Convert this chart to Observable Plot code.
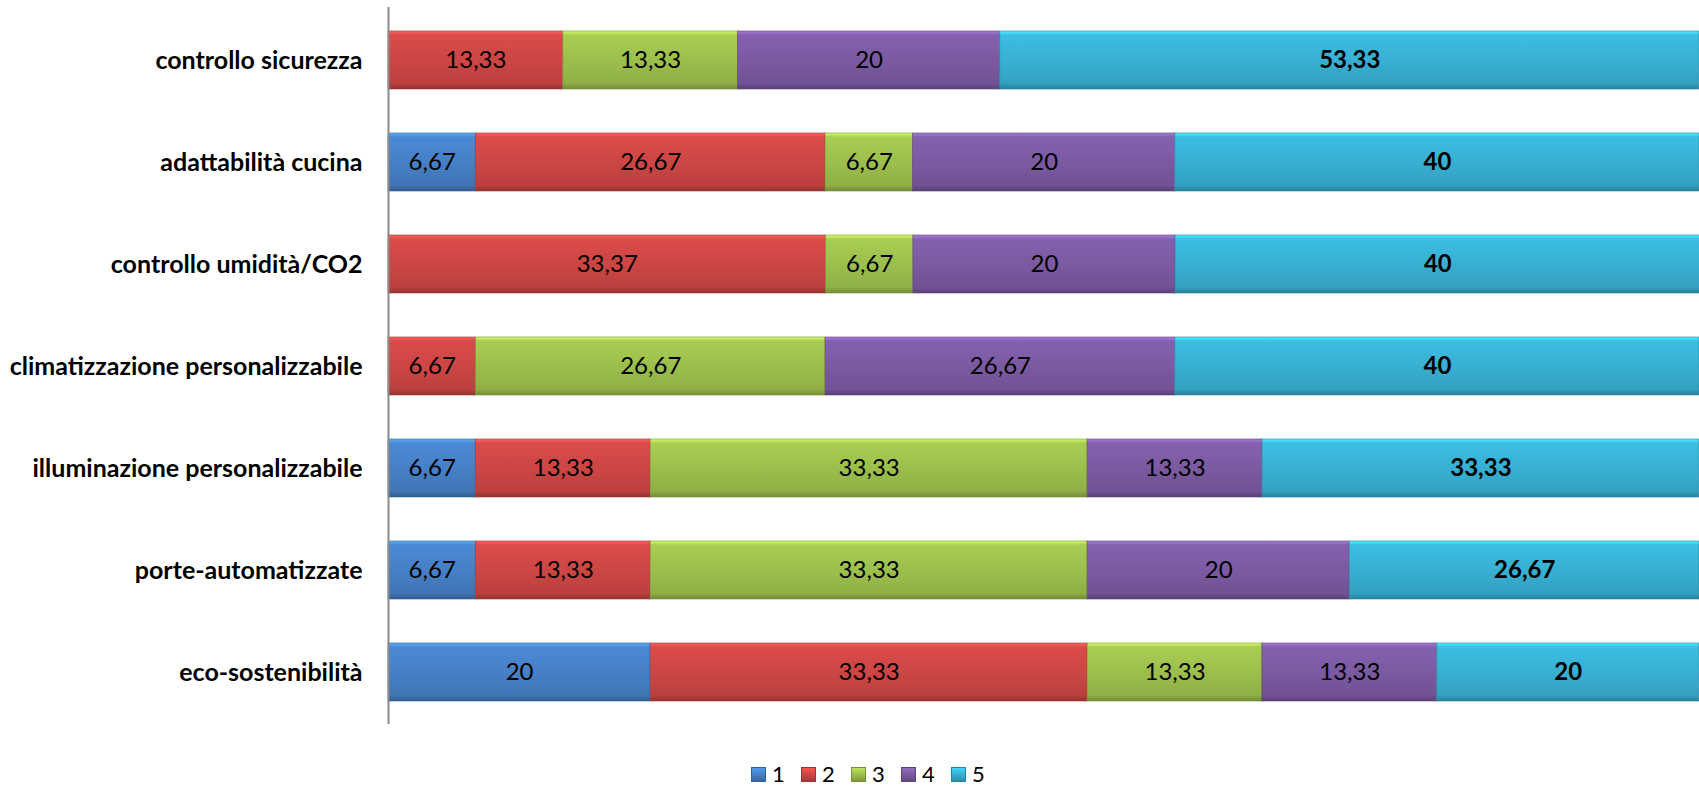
<!DOCTYPE html>
<html>
<head>
<meta charset="utf-8">
<script src="https://cdn.jsdelivr.net/npm/d3@7"></script>
<script src="https://cdn.jsdelivr.net/npm/@observablehq/plot@0.6"></script>
<style>
  html, body { margin: 0; padding: 0; background: #fff; }
  #chart svg { display: block; }
  #legend { position: relative; height: 27px; font-family: Lato, "Open Sans", sans-serif; font-size: 22px; line-height: 18px; color: #000; overflow: hidden; }
  #legend .item { position: absolute; top: 5px; display: flex; align-items: center; height: 18px; }
  #legend .item span { line-height: 18px; }
  #legend .sw { width: 15px; height: 15px; margin-right: 6px; box-sizing: border-box; }
</style>
</head>
<body>
<div id="chart"></div>
<div id="legend"></div>
<script>
const categories = [
  "controllo sicurezza",
  "adattabilità cucina",
  "controllo umidità/CO2",
  "climatizzazione personalizzabile",
  "illuminazione personalizzabile",
  "porte-automatizzate",
  "eco-sostenibilità"
];
const seriesNames = ["1", "2", "3", "4", "5"];
const s1 = [0, 6.67, 0, 0, 6.67, 6.67, 20];
const s2 = [13.33, 26.67, 33.37, 6.67, 13.33, 13.33, 33.33];
const s3 = [13.33, 6.67, 6.67, 26.67, 33.33, 33.33, 13.33];
const s4 = [20, 20, 20, 26.67, 13.33, 20, 13.33];
const s5 = [53.33, 40, 40, 40, 33.33, 26.67, 20];
const colors = ["#4680c6", "#cc4644", "#9cbf4c", "#7b5aa2", "#38b0d3"];

const allSeries = [s1, s2, s3, s4, s5];
const data = [];
categories.forEach((c, i) => {
  allSeries.forEach((s, k) => {
    if (s[i] > 0) data.push({cat: c, series: seriesNames[k], value: s[i]});
  });
});
const fmt = v => String(v).replace(".", ",");

const gradIds = colors.map((c, i) => "grad" + i);
const defsMark = () => {
  const defs = d3.create("svg:defs");
  colors.forEach((c, i) => {
    const g = defs.append("linearGradient").attr("id", gradIds[i])
      .attr("x1", 0).attr("y1", 0).attr("x2", 0).attr("y2", 1);
    const base = d3.color(c);
    g.append("stop").attr("offset", "0").attr("stop-color", base.brighter(0.9));
    g.append("stop").attr("offset", "0.07").attr("stop-color", base.brighter(0.2));
    g.append("stop").attr("offset", "0.5").attr("stop-color", base);
    g.append("stop").attr("offset", "0.9").attr("stop-color", base.darker(0.25));
    g.append("stop").attr("offset", "1").attr("stop-color", base.darker(0.9));
  });
  return defs.node();
};

const stackOpts = {x: "value", y: "cat", z: "series", order: seriesNames};

const chart = Plot.plot({
  width: 1699,
  height: 760,
  marginLeft: 388,
  marginRight: 0,
  marginTop: 7,
  marginBottom: 36,
  style: {fontFamily: "Lato, 'Open Sans', sans-serif", background: "#fff"},
  x: {domain: [0, 100], axis: null},
  y: {domain: categories, paddingInner: 0.434, paddingOuter: 0.217, label: null, axis: null},
  color: {domain: seriesNames, range: gradIds.map(id => `url(#${id})`)},
  marks: [
    defsMark,
    Plot.barX(data, Plot.stackX({
      ...stackOpts, fill: "series",
      stroke: d => d3.color(colors[seriesNames.indexOf(d.series)]).darker(0.8).formatHex(),
      strokeWidth: 1, strokeOpacity: 0.6
    })),
    Plot.text(data, Plot.stackX({
      ...stackOpts,
      text: d => d.series !== "5" ? fmt(d.value) : null, fontSize: 24, fill: "#000"
    })),
    Plot.text(data, Plot.stackX({
      ...stackOpts,
      text: d => d.series === "5" ? fmt(d.value) : null, fontSize: 24, fontWeight: "bold", fill: "#000"
    })),
    Plot.ruleX([0], {stroke: "#8c8c8c", strokeWidth: 2}),
    Plot.axisY({tickSize: 0, tickPadding: 26, fontSize: 25, fontWeight: "bold", fill: "#000", label: null})
  ]
});
document.getElementById("chart").appendChild(chart);

const legend = d3.select("#legend");
seriesNames.forEach((name, i) => {
  const item = legend.append("div").attr("class", "item").style("left", (751 + i * 50) + "px");
  item.append("div").attr("class", "sw")
    .style("background", `linear-gradient(${d3.color(colors[i]).brighter(0.5)}, ${colors[i]} 50%, ${d3.color(colors[i]).darker(0.6)})`)
    .style("border", `1px solid ${d3.color(colors[i]).darker(0.8)}`);
  item.append("span").text(name);
});
</script>
</body>
</html>
